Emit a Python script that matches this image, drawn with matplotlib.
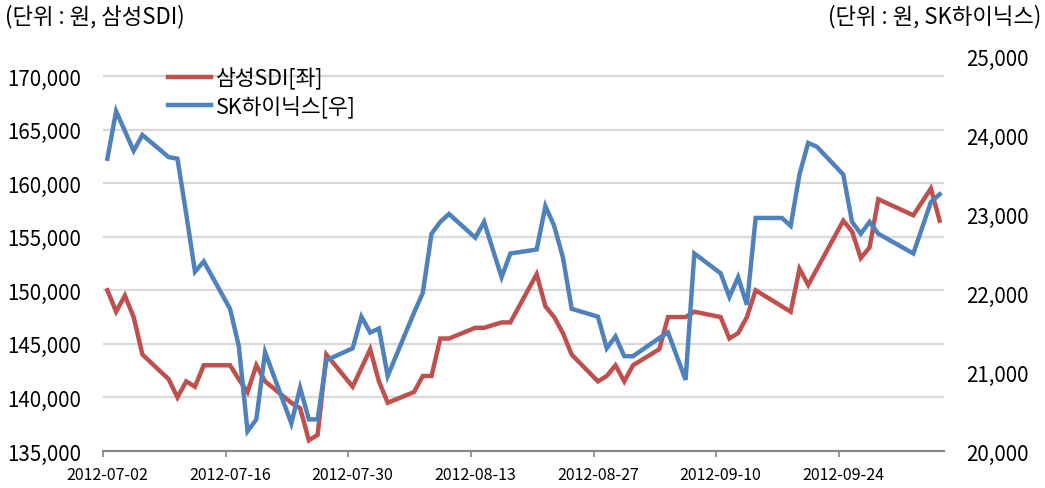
import matplotlib
matplotlib.use("Agg")
import matplotlib.pyplot as plt
import matplotlib.ticker as mticker
import pandas as pd

plt.rcParams['font.family'] = ['Noto Sans CJK KR', 'DejaVu Sans']

dates = ["2012-07-02", "2012-07-03", "2012-07-04", "2012-07-05", "2012-07-06",
         "2012-07-09", "2012-07-10", "2012-07-11", "2012-07-12", "2012-07-13",
         "2012-07-16", "2012-07-17", "2012-07-18", "2012-07-19", "2012-07-20",
         "2012-07-23", "2012-07-24", "2012-07-25", "2012-07-26", "2012-07-27",
         "2012-07-30", "2012-07-31", "2012-08-01", "2012-08-02", "2012-08-03",
         "2012-08-06", "2012-08-07", "2012-08-08", "2012-08-09", "2012-08-10",
         "2012-08-13", "2012-08-14", "2012-08-16", "2012-08-17",
         "2012-08-20", "2012-08-21", "2012-08-22", "2012-08-23", "2012-08-24",
         "2012-08-27", "2012-08-28", "2012-08-29", "2012-08-30", "2012-08-31",
         "2012-09-03", "2012-09-04", "2012-09-05", "2012-09-06", "2012-09-07",
         "2012-09-10", "2012-09-11", "2012-09-12", "2012-09-13", "2012-09-14",
         "2012-09-17", "2012-09-18", "2012-09-19", "2012-09-20", "2012-09-21",
         "2012-09-24", "2012-09-25", "2012-09-26", "2012-09-27", "2012-09-28",
         "2012-10-02", "2012-10-04", "2012-10-05"]

samsung_sdi = [150000, 148000, 149500, 147500, 144000,
               141700, 140000, 141500, 141000, 143000,
               143000, 141700, 140500, 143000, 141500,
               139500, 139000, 136000, 136500, 144000,
               141000, 142750, 144500, 141500, 139500,
               140500, 142000, 142000, 145500, 145500,
               146500, 146500, 147000, 147000,
               151500, 148500, 147500, 146000, 144000,
               141500, 142000, 143000, 141500, 143000,
               144500, 147500, 147500, 147500, 148000,
               147500, 145500, 146000, 147500, 150000,
               148500, 148000, 152000, 150500, 152000,
               156500, 155500, 153000, 154000, 158500,
               157000, 159500, 156500]

sk_hynix = [23700, 24300, 24050, 23800, 24000,
            23720, 23700, 23000, 22270, 22400,
            21800, 21330, 20250, 20400, 21250,
            20350, 20800, 20400, 20400, 21150,
            21300, 21700, 21500, 21550, 20950,
            21750, 22000, 22750, 22900, 23000,
            22700, 22900, 22200, 22500,
            22550, 23100, 22850, 22450, 21800,
            21700, 21300, 21450, 21200, 21200,
            21430, 21500, 21200, 20900, 22500,
            22250, 21950, 22200, 21850, 22950,
            22950, 22850, 23500, 23900, 23850,
            23500, 22900, 22750, 22900, 22750,
            22500, 23150, 23250]

tick_dates = ["2012-07-02", "2012-07-16", "2012-07-30", "2012-08-13",
              "2012-08-27", "2012-09-10", "2012-09-24"]
left_ticks = [135000, 140000, 145000, 150000, 155000, 160000, 165000, 170000]
right_ticks = [20000, 21000, 22000, 23000, 24000, 25000]

series_names = ["삼성SDI[좌]", "SK하이닉스[우]"]
header_left = "(단위 : 원, 삼성SDI)"
header_right = "(단위 : 원, SK하이닉스)"

red = "#C0504D"
blue = "#4F81BD"
grid_c = "#D9D9D9"
axis_c = "#868686"

W, H = 1045, 489
fig = plt.figure(figsize=(W / 100, H / 100), dpi=100)
x0, x1, ybot, ytop = 103, 944, 452, 57
ax = fig.add_axes([x0 / W, 1 - ybot / H, (x1 - x0) / W, (ybot - ytop) / H])
ax2 = ax.twinx()

x = pd.to_datetime(dates)
l1, = ax.plot(x, samsung_sdi, color=red, lw=3.2, solid_joinstyle='miter', zorder=3)
l2, = ax2.plot(x, sk_hynix, color=blue, lw=3.2, solid_joinstyle='miter', zorder=3)

half = pd.Timedelta(hours=12)
ax.set_xlim(pd.Timestamp("2012-07-02") - half, pd.Timestamp("2012-10-05") + half)

lo, hi = 135000, 170000
ax.set_ylim(lo, lo + (hi - lo) * (ybot - ytop) / (ybot - 77))
ax.set_yticks(left_ticks)
ax.yaxis.set_major_formatter(mticker.FuncFormatter(lambda v, p: f"{int(v):,}"))
ax.grid(axis='y', color=grid_c, lw=1.6, zorder=0)
ax.set_axisbelow(True)

ax2.set_ylim(20000, 25000)
ax2.set_yticks(right_ticks)
ax2.yaxis.set_major_formatter(mticker.FuncFormatter(lambda v, p: f"{int(v):,}"))

tpos = pd.to_datetime(tick_dates)
ax.set_xticks(tpos)
ax.set_xticklabels(tick_dates)
ax.set_xticks(tpos - half, minor=True)
ax.tick_params(axis='x', which='major', length=0, pad=11, labelsize=11.5, colors='#000000')
ax.tick_params(axis='x', which='minor', length=4.5, width=1.2, color=axis_c, direction='out')
ax.tick_params(axis='y', length=0, pad=16, labelsize=14.8, colors='#000000')
ax2.tick_params(axis='y', length=0, pad=16, labelsize=14.8, colors='#000000')

for a in (ax, ax2):
    for s in ('left', 'right', 'top', 'bottom'):
        a.spines[s].set_visible(False)
ax.spines['bottom'].set_visible(True)
ax.spines['bottom'].set_color(axis_c)
ax.spines['bottom'].set_linewidth(1.5)

fig.text(5 / W, 1 - 17 / H, header_left, ha='left', va='center', fontsize=16)
fig.text(1 - 4 / W, 1 - 17 / H, header_right, ha='right', va='center', fontsize=16)

leg = ax2.legend([l1, l2], series_names, loc='upper left',
                 bbox_to_anchor=(168 / W, 1 - 68 / H), bbox_transform=fig.transFigure,
                 frameon=False, fontsize=15.5, handlelength=2.0, handletextpad=0.25,
                 labelspacing=0.25, borderpad=0, borderaxespad=0)

fig.savefig("out.png", dpi=100)
